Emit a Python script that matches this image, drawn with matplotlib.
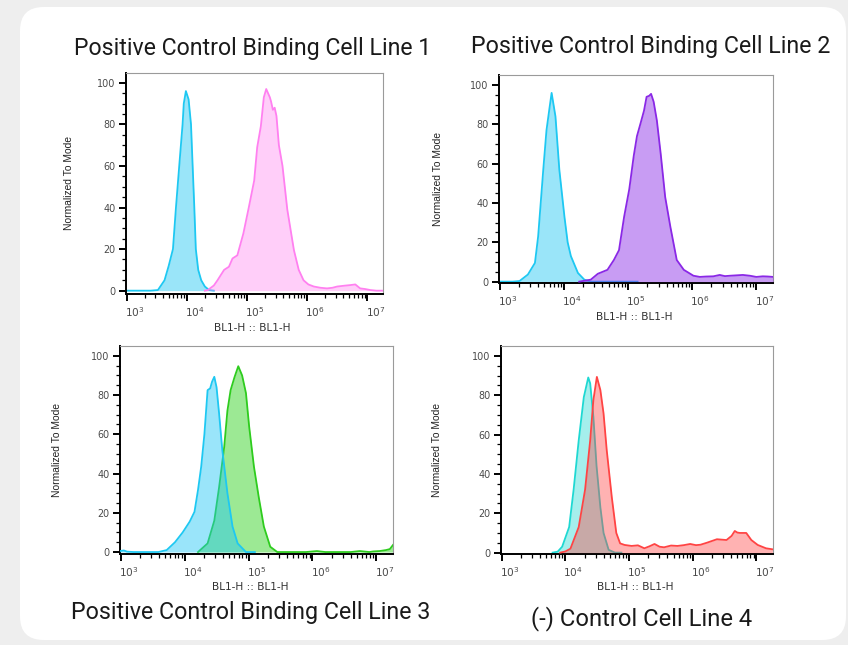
import numpy as np
import matplotlib
matplotlib.use("Agg")
import matplotlib.pyplot as plt
from matplotlib.patches import FancyBboxPatch
from matplotlib.ticker import FixedLocator, NullFormatter
import matplotlib.transforms as mtransforms

# ---------------- data (x as log10 of BL1-H, y as % of mode) ----------------
titles = ["Positive Control Binding Cell Line 1",
          "Positive Control Binding Cell Line 2",
          "Positive Control Binding Cell Line 3",
          "(-) Control Cell Line 4"]

p1_ctrl_logx = [2.99, 3.40, 3.52, 3.63, 3.70, 3.77, 3.82, 3.88, 3.93, 3.95, 3.985, 4.03, 4.07, 4.10, 4.125, 4.15, 4.19, 4.24, 4.30, 4.37, 4.45]
p1_ctrl_y    = [0.0,  0.0,  0.3,  5.0,  12.0, 20.0, 40.0, 62.0, 80.0, 90.0, 96.0,  92.0, 80.0, 58.0, 40.0,  20.0, 10.0, 5.0,  2.0,  0.3,  0.0]
p1_samp_logx = [4.30, 4.35, 4.45, 4.51, 4.62, 4.70, 4.76, 4.84, 4.94, 5.03, 5.12, 5.17, 5.23, 5.28, 5.32, 5.35, 5.38, 5.40, 5.43, 5.46, 5.49, 5.53, 5.59, 5.67, 5.78, 5.86, 5.94, 6.02, 6.11, 6.22, 6.33, 6.42, 6.50, 6.62, 6.72, 6.80, 6.88, 6.96, 7.05, 7.15, 7.26]
p1_samp_y    = [0.0,  0.3,  2.5,  5.0,  10.0, 11.5, 15.5, 17.0, 27.5, 40.0, 53.0, 69.0, 79.0, 93.0, 97.0, 95.0, 93.0, 91.0, 87.0, 88.0, 84.0, 70.0, 60.0, 39.0, 19.5, 10.0, 5.0,  3.0,  2.0,  1.4,  1.1,  1.4,  2.0,  2.4,  2.7,  3.0,  1.1,  0.8,  0.3,  0.0,  0.0]

p2_ctrl_logx = [2.99, 3.20, 3.31, 3.44, 3.55, 3.60, 3.68, 3.73, 3.78, 3.81, 3.87, 3.93, 4.01, 4.06, 4.11, 4.22, 4.32, 4.42, 4.80, 5.15]
p2_ctrl_y    = [0.0,  0.0,  0.3,  3.6,  9.5,  23.0, 57.0, 77.0, 89.0, 96.0, 84.0, 57.0, 33.0, 20.0, 13.0, 4.4,  1.0,  0.0,  0.0,  0.0]
p2_samp_logx = [4.24, 4.42, 4.53, 4.68, 4.78, 4.86, 4.94, 5.02, 5.09, 5.14, 5.20, 5.25, 5.29, 5.33, 5.36, 5.40, 5.45, 5.51, 5.58, 5.66, 5.76, 5.87, 6.02, 6.12, 6.22, 6.33, 6.43, 6.51, 6.59, 6.69, 6.79, 6.90, 7.00, 7.10, 7.18, 7.26]
p2_samp_y    = [0.0,  1.0,  4.0,  6.0,  11.0, 16.0, 33.0, 47.0, 64.0, 74.0, 81.0, 87.0, 94.0, 94.5, 95.5, 91.5, 82.0, 65.0, 43.0, 28.0, 11.0, 6.0,  3.0,  2.4,  2.6,  2.7,  3.4,  2.8,  3.0,  3.2,  3.4,  3.0,  2.4,  2.7,  2.6,  2.4]

p3_ctrl_logx = [2.99, 3.05, 3.10, 3.20, 3.59, 3.72, 3.85, 3.97, 4.08, 4.155, 4.21, 4.26, 4.31, 4.36, 4.40, 4.43, 4.465, 4.50, 4.54, 4.59, 4.67, 4.75, 4.83, 4.96, 5.10]
p3_ctrl_y    = [0.5,  0.8,  0.2,  0.0,  0.0,  1.0,  5.0,  10.0, 15.5, 20.5,  31.6, 43.5, 60.0, 82.5, 83.4, 86.8, 89.3,  84.0, 70.6, 52.0, 30.0, 13.0, 4.4,  0.0,  0.0]
p3_samp_logx = [4.21, 4.36, 4.465, 4.54, 4.62, 4.67, 4.72, 4.78, 4.84, 4.90, 4.96, 5.01, 5.085, 5.16, 5.24, 5.34, 5.45, 5.90, 6.07, 6.20, 6.60, 6.74, 6.89, 6.95, 7.05, 7.15, 7.21, 7.26]
p3_samp_y    = [0.0,  4.4,  16.0,  33.0, 53.6, 72.0, 82.5, 89.0, 94.7, 90.0, 81.0, 64.0, 43.5,  28.0, 13.0, 2.7,  0.0,  0.0,  0.5,  0.0,  0.0,  0.5,  0.0,  0.3,  0.5,  1.0,  1.5,  3.6]

p4_ctrl_logx = [3.80, 3.88, 3.95, 4.06, 4.13, 4.21, 4.29, 4.36, 4.39, 4.44, 4.49, 4.55, 4.60, 4.68, 4.78, 4.88]
p4_ctrl_y    = [0.0,  0.5,  3.0,  13.0, 32.0, 57.0, 79.0, 89.0, 86.0, 69.0, 44.0, 23.0, 10.0, 1.4,  0.0,  0.0]
p4_samp_logx = [3.92, 4.00, 4.08, 4.21, 4.31, 4.39, 4.44, 4.495, 4.55, 4.60, 4.65, 4.73, 4.80, 4.86, 4.93, 5.04, 5.14, 5.24, 5.32, 5.40, 5.48, 5.55, 5.66, 5.76, 5.86, 5.96, 6.05, 6.12, 6.22, 6.38, 6.53, 6.61, 6.66, 6.70, 6.74, 6.84, 6.92, 7.02, 7.15, 7.25]
p4_samp_y    = [0.0,  0.6,  2.0,  13.0, 32.0, 57.0, 77.5, 89.3,  82.6, 70.7, 52.0, 28.0, 10.0, 4.7,  3.9,  3.4,  3.7,  2.2,  3.2,  4.4,  3.0,  2.7,  3.6,  3.4,  3.8,  4.4,  3.8,  4.0,  5.0,  6.8,  6.4,  8.5,  11.0, 10.2, 10.0, 10.0, 6.4,  3.9,  2.2,  1.7]

y_ticks = [0, 20, 40, 60, 80, 100]
x_decades = [3, 4, 5, 6, 7]

# colours (line, fill rgba)
cyan_line = "#1ec8f2"
panels = [
    dict(ctrl=(p1_ctrl_logx, p1_ctrl_y), samp=(p1_samp_logx, p1_samp_y),
         cline=cyan_line, cfill=(0.12, 0.78, 0.95, 0.45),
         sline="#ff80f0", sfill=(1.0, 0.50, 0.94, 0.38), ctrl_on_top=False,
         box=(126, 383, 73, 294), ylim=(-1.6, 104.7)),
    dict(ctrl=(p2_ctrl_logx, p2_ctrl_y), samp=(p2_samp_logx, p2_samp_y),
         cline=cyan_line, cfill=(0.12, 0.78, 0.95, 0.45),
         sline="#8a28e6", sfill=(0.55, 0.18, 0.90, 0.47), ctrl_on_top=False,
         box=(499, 773, 75, 283), ylim=(-0.7, 105.1)),
    dict(ctrl=(p3_ctrl_logx, p3_ctrl_y), samp=(p3_samp_logx, p3_samp_y),
         cline=cyan_line, cfill=(0.12, 0.78, 0.96, 0.45),
         sline="#2ecc1e", sfill=(0.19, 0.82, 0.13, 0.48), ctrl_on_top=True,
         box=(120, 393, 346, 554), ylim=(-1.0, 105.0)),
    dict(ctrl=(p4_ctrl_logx, p4_ctrl_y), samp=(p4_samp_logx, p4_samp_y),
         cline="#1ed8d2", cfill=(0.12, 0.85, 0.82, 0.40),
         sline="#ff4444", sfill=(1.0, 0.25, 0.25, 0.40), ctrl_on_top=False,
         box=(501, 773, 346, 554), ylim=(-0.7, 105.0)),
]

W, H = 848, 645
fig = plt.figure(figsize=(W / 100, H / 100), dpi=100)
fig.patch.set_facecolor("#eeeeee")

# card
card = FancyBboxPatch((20 / W, 1 - 640 / H), (846 - 20) / W, (640 - 7) / H,
                      boxstyle="round,pad=0,rounding_size=0.028",
                      transform=fig.transFigure, facecolor="white",
                      edgecolor="none", zorder=-5, mutation_aspect=W / H)
fig.patches.append(card)


def fx(x):
    return x / W


def fy(y):
    return 1 - y / H


for p in panels:
    l, r, t, b = p["box"]
    ax = fig.add_axes([fx(l), fy(b), (r - l) / W, (b - t) / H], zorder=2)
    ax.set_facecolor("white")
    ax.set_xscale("log")
    ax.set_xlim(10 ** 2.99, 10 ** 7.26)
    ax.set_ylim(*p["ylim"])

    def draw(data, line, fill, z):
        x = 10 ** np.array(data[0])
        y = np.array(data[1])
        ax.fill_between(x, 0, y, color=fill, lw=0, zorder=z)
        ax.plot(x, y, color=line, lw=1.3, zorder=z + 0.5, solid_joinstyle="round")

    if p["ctrl_on_top"]:
        draw(p["samp"], p["sline"], p["sfill"], 2)
        draw(p["ctrl"], p["cline"], p["cfill"], 3)
    else:
        draw(p["ctrl"], p["cline"], p["cfill"], 2)
        draw(p["samp"], p["sline"], p["sfill"], 3)

    # spines
    for s in ["top", "right"]:
        ax.spines[s].set_color("#9a9a9a")
        ax.spines[s].set_linewidth(0.8)
    for s in ["left", "bottom"]:
        ax.spines[s].set_color("black")
        ax.spines[s].set_linewidth(1.4)

    ax.yaxis.set_major_locator(FixedLocator(y_ticks))
    ax.yaxis.set_minor_locator(FixedLocator([v for v in range(0, 101, 5) if v % 20]))
    ax.set_yticklabels([str(v) for v in y_ticks])
    ax.xaxis.set_major_locator(FixedLocator([10.0 ** d for d in x_decades]))
    minors = [m * 10.0 ** d for d in range(2, 8) for m in range(2, 10)]
    ax.xaxis.set_minor_locator(FixedLocator(minors))
    ax.xaxis.set_minor_formatter(NullFormatter())
    ax.set_xticklabels([r"$10^{%d}$" % d for d in x_decades])

    ax.tick_params(axis="both", which="major", direction="out", length=5,
                   width=1.4, color="black", labelcolor="#4a4a4a", pad=2.5)
    ax.tick_params(axis="y", which="major", labelsize=6.9)
    ax.tick_params(axis="x", which="major", labelsize=7.6, pad=3)
    ax.tick_params(axis="both", which="minor", direction="out", length=3,
                   width=0.9, color="black")
    off = mtransforms.ScaledTranslation(8 / 100, 0, fig.dpi_scale_trans)
    for lab in ax.get_xticklabels():
        lab.set_transform(lab.get_transform() + off)

# text
renderer = fig.canvas.get_renderer()


def fit_text(x, y, s, target_len, **kw):
    t = fig.text(fx(x), fy(y), s, ha="center", va="center", **kw)
    fs = t.get_fontsize()
    bb = t.get_window_extent(renderer)
    length = bb.height if kw.get("rotation", 0) == 90 else bb.width
    t.set_fontsize(fs * target_len / length)
    return t


title_pos = [(253, 48, 357), (651, 47, 358), (251, 612, 358), (642, 619, 220)]
for s, (x, y, w) in zip(titles, title_pos):
    fit_text(x, y, s, w, family="Roboto", color="#1a1a1a", fontsize=13)

ylab_pos = [(69, 183), (438, 179), (57, 450), (437, 450)]
for x, y in ylab_pos:
    fit_text(x, y, "Normalized To Mode", 93, rotation=90,
             family="Liberation Sans", color="#222222", fontsize=7)

xlab_pos = [(252, 328), (634, 317), (250, 587), (635, 587)]
for x, y in xlab_pos:
    fit_text(x, y, "BL1-H :: BL1-H", 77, family="DejaVu Sans",
             color="#333333", fontsize=7)

fig.savefig("out.png", dpi=100, facecolor=fig.get_facecolor())
